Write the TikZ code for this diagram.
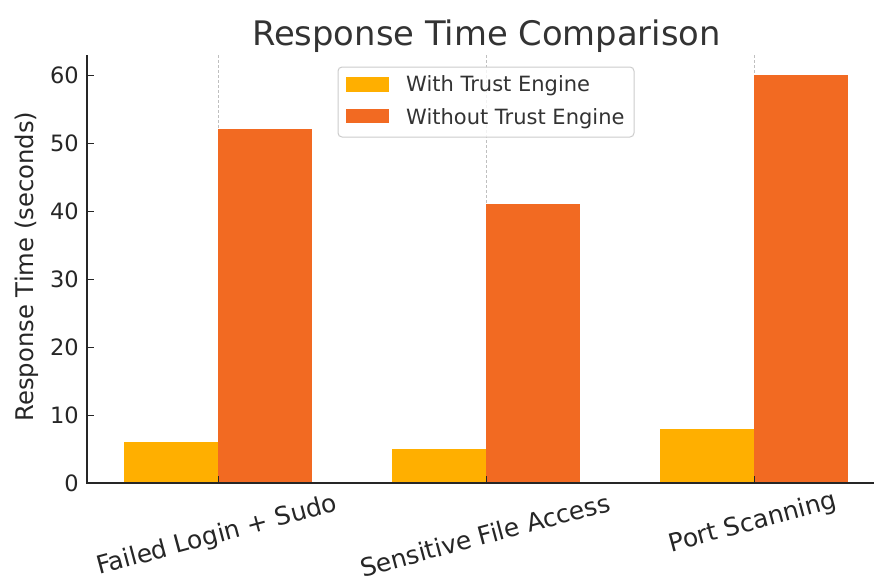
\documentclass[tikz,border=0pt]{standalone}
\usepackage{fontspec}
\setmainfont{DejaVu Sans}
\definecolor{withcol}{HTML}{FFAF00}
\definecolor{withoutcol}{HTML}{F26A22}
\definecolor{txt}{HTML}{262626}
\definecolor{titletxt}{HTML}{333333}
\definecolor{axiscol}{HTML}{262626}
\definecolor{gridcol}{HTML}{BFBFBF}
\definecolor{framecol}{HTML}{CCCCCC}
\begin{document}
\begin{tikzpicture}[x=1pt,y=-1pt,
  spine/.style={draw=axiscol,line width=1.5pt},
  tickmark/.style={draw=axiscol,line width=1pt},
  gridline/.style={draw=gridcol,line width=0.8pt,dash pattern=on 3pt off 2pt},
  ticklbl/.style={font=\fontsize{22.5}{27}\selectfont,text=txt,inner sep=0pt},
  catlbl/.style={font=\fontsize{25}{30}\selectfont,text=txt,inner sep=0pt,rotate=15},
  axlbl/.style={font=\fontsize{24.3}{29}\selectfont,text=txt,inner sep=0pt},
  titlelbl/.style={font=\fontsize{33.8}{40}\selectfont,text=titletxt,inner sep=0pt},
  leglbl/.style={font=\fontsize{21}{25}\selectfont,text=titletxt,inner sep=0pt},
  legframe/.style={draw=framecol,line width=1pt,fill=white,fill opacity=0.8,rounded corners=4pt}]
\useasboundingbox[fill=white] (0,0) rectangle (874,576);

% vertical grid lines at the category centres
\foreach \c in {218,486,754}
  \draw[gridline] (\c,55) -- (\c,483);

% bars: value v sits at 483 - 6.8 v
\foreach \c/\a/\b in {218/6/52, 486/5/41, 754/8/60} {
  \fill[withcol] (\c-93.8,483) rectangle (\c,{483-6.8*\a});
  \fill[withoutcol] (\c,483) rectangle (\c+93.8,{483-6.8*\b});
}

% axes
\draw[spine] (87,55) -- (87,483) -- (874,483);
\foreach \v in {0,10,...,60} {
  \draw[tickmark] (87,{483-6.8*\v}) -- (94,{483-6.8*\v});
  \node[ticklbl,anchor=east] (y\v) at (79,{483-6.8*\v}) {\v};
}
\foreach \c in {218,486,754}
  \draw[tickmark] (\c,483) -- (\c,476);

% category labels
\node[catlbl] (c1) at (217,536) {Failed Login + Sudo};
\node[catlbl] (c2) at (485,535) {Sensitive File Access};
\node[catlbl] (c3) at (753,523) {Port Scanning};

% axis label and title
\node[axlbl,rotate=90,anchor=base] (ylab) at (33,266.5) {Response Time (seconds)};
\node[titlelbl,anchor=base] (title) at (486.5,45) {Response Time Comparison};

% legend
\draw[legframe] (338,67) rectangle (634,137);
\fill[withcol] (346,77) rectangle (389,92);
\fill[withoutcol] (346,109) rectangle (389,123);
\node[leglbl,anchor=base west] (l1) at (406,91.5) {With Trust Engine};
\node[leglbl,anchor=base west] (l2) at (406,124) {Without Trust Engine};
\end{tikzpicture}
\end{document}
